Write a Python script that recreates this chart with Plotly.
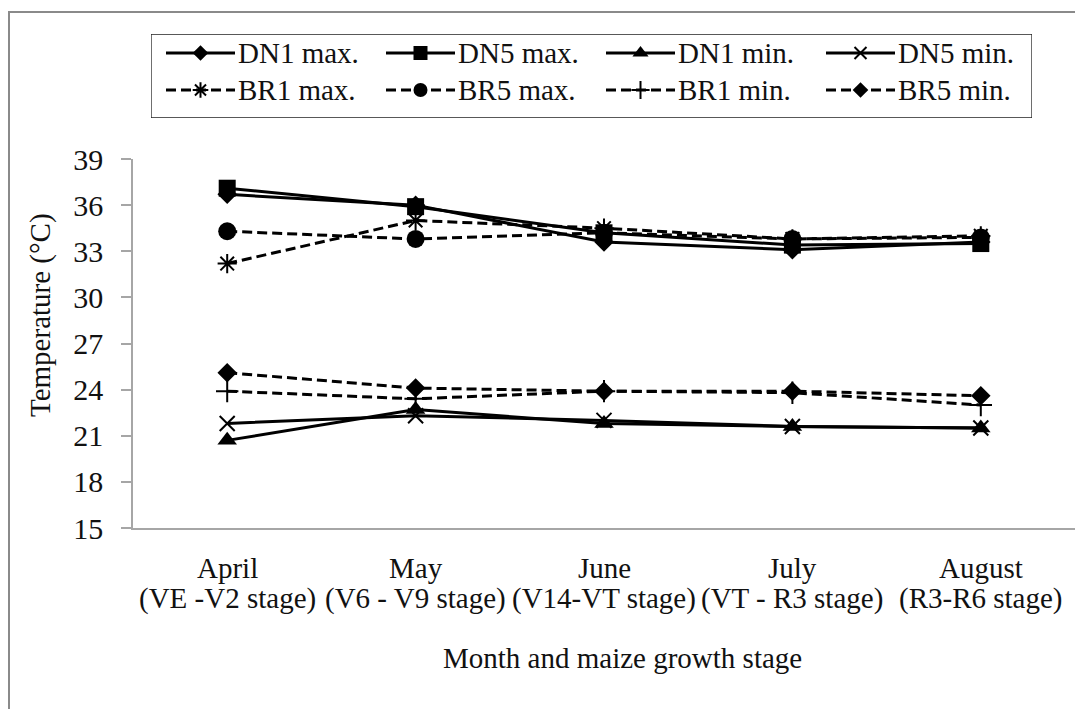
import plotly.graph_objects as go

# ---- data -------------------------------------------------------------
months = ["April", "May", "June", "July", "August"]
stages = ["(VE -V2 stage)", "(V6 - V9 stage)", "(V14-VT stage)",
          "(VT - R3 stage)", "(R3-R6 stage)"]

dn1_max = [36.7, 36.0, 33.6, 33.1, 33.6]
dn5_max = [37.1, 35.9, 34.2, 33.4, 33.5]
dn1_min = [20.7, 22.7, 21.8, 21.6, 21.5]
dn5_min = [21.8, 22.3, 22.0, 21.6, 21.5]
br1_max = [32.2, 35.0, 34.5, 33.8, 34.0]
br5_max = [34.3, 33.8, 34.2, 33.8, 33.9]
br1_min = [23.9, 23.4, 23.9, 23.8, 23.0]
br5_min = [25.1, 24.1, 23.9, 23.9, 23.6]

y_ticks = [15, 18, 21, 24, 27, 30, 33, 36, 39]

series = [
    ("DN1 max.", dn1_max, "solid", "diamond", 15),
    ("DN5 max.", dn5_max, "solid", "square", 17),
    ("DN1 min.", dn1_min, "solid", "triangle-up", 17),
    ("DN5 min.", dn5_min, "solid", "x-thin-open", 15),
    ("BR1 max.", br1_max, "10px,5px", "asterisk-open", 16),
    ("BR5 max.", br5_max, "10px,5px", "circle", 18),
    ("BR1 min.", br1_min, "10px,5px", "cross-thin-open", 16),
    ("BR5 min.", br5_min, "10px,5px", "diamond", 15),
]

# ---- geometry ---------------------------------------------------------
W, H = 1075, 709
ML, MR, MT, MB = 133, 0, 20, 181
PW, PH = W - ML - MR, H - MT - MB
PLOT_TOP = 159          # top of the temperature axis, px
LEG_L, LEG_R, LEG_T, LEG_B = 151, 1032, 34, 118


def px_x(px):
    return (px - ML) / PW


def px_y(py):
    return (H - MB - py) / PH


FONT = "Liberation Serif"
INK = "#111111"
AXIS_GREY = "#a6a6a6"

fig = go.Figure()


def marker_style(symbol, size):
    open_sym = symbol.endswith("-open")
    return dict(
        symbol=symbol, size=size, color="black",
        line=dict(color="black", width=2 if open_sym else 0),
    )


# ---- data traces ------------------------------------------------------
for name, vals, dash, symbol, size in series:
    fig.add_trace(go.Scatter(
        x=months, y=vals, name=name, mode="lines+markers",
        line=dict(color="black", width=3, dash=dash),
        marker=marker_style(symbol, size),
        showlegend=False, xaxis="x", yaxis="y",
    ))

# ---- legend drawn on its own pixel-scaled axes ------------------------
leg_cols = [166, 386, 606, 826]
leg_rows = [53, 90]
sample_len = 69
for i, (name, vals, dash, symbol, size) in enumerate(series):
    x0 = leg_cols[i % 4]
    yy = leg_rows[i // 4]
    fig.add_trace(go.Scatter(
        x=[x0, x0 + sample_len], y=[yy, yy], mode="lines",
        line=dict(color="black", width=3, dash=dash),
        showlegend=False, hoverinfo="skip", xaxis="x2", yaxis="y2",
    ))
    fig.add_trace(go.Scatter(
        x=[x0 + sample_len / 2], y=[yy], mode="markers",
        marker=marker_style(symbol, round(size * 0.8)),
        showlegend=False, hoverinfo="skip", xaxis="x2", yaxis="y2",
    ))
    fig.add_annotation(
        x=x0 + sample_len + 1, y=yy, xref="x2", yref="y2",
        text=name, showarrow=False, xanchor="left", yanchor="middle",
        font=dict(family=FONT, size=29, color=INK),
    )

fig.add_shape(type="rect", xref="x2", yref="y2",
              x0=LEG_L, x1=LEG_R, y0=LEG_T, y1=LEG_B,
              line=dict(color="#222222", width=1.3), fillcolor="rgba(0,0,0,0)",
              layer="below")

# ---- category labels (month + growth stage) ---------------------------
for m, s in zip(months, stages):
    fig.add_annotation(x=m, y=px_y(568), xref="x", yref="paper", text=m,
                       showarrow=False, xanchor="center", yanchor="middle",
                       font=dict(family=FONT, size=29, color=INK))
    fig.add_annotation(x=m, y=px_y(598), xref="x", yref="paper", text=s,
                       showarrow=False, xanchor="center", yanchor="middle",
                       font=dict(family=FONT, size=29, color=INK))

# ---- axis titles ------------------------------------------------------
fig.add_annotation(x=px_x(622), y=px_y(658), xref="paper", yref="paper",
                   text="Month and maize growth stage", showarrow=False,
                   xanchor="center", yanchor="middle",
                   font=dict(family=FONT, size=29, color=INK))
fig.add_annotation(x=px_x(40), y=px_y(315), xref="paper", yref="paper",
                   text="Temperature (°C)", showarrow=False, textangle=-90,
                   xanchor="center", yanchor="middle",
                   font=dict(family=FONT, size=29, color=INK))

# ---- outer chart frame ------------------------------------------------
fig.add_shape(type="rect", xref="paper", yref="paper",
              x0=px_x(9), x1=px_x(1100), y0=px_y(12), y1=px_y(730),
              line=dict(color="#8a8a8a", width=2), layer="below")

fig.update_layout(
    width=W, height=H,
    margin=dict(l=ML, r=MR, t=MT, b=MB, pad=0),
    paper_bgcolor="white", plot_bgcolor="white",
    font=dict(family=FONT, size=29, color=INK),
    xaxis=dict(
        domain=[0, 1], range=[-0.5, 4.5], type="category",
        categoryorder="array", categoryarray=months,
        showticklabels=False, ticks="", showgrid=False, zeroline=False,
        showline=True, linecolor=AXIS_GREY, linewidth=1.5,
    ),
    yaxis=dict(
        domain=[0, px_y(PLOT_TOP)], range=[15, 39],
        tickvals=y_ticks, ticks="outside", ticklen=10, tickwidth=1.5,
        tickcolor=AXIS_GREY, ticklabelstandoff=12,
        showgrid=False, zeroline=False,
        showline=True, linecolor=AXIS_GREY, linewidth=1.5,
        tickfont=dict(family=FONT, size=30, color=INK),
    ),
    xaxis2=dict(domain=[px_x(LEG_L), px_x(LEG_R)], range=[LEG_L, LEG_R],
                anchor="y2", visible=False, fixedrange=True),
    yaxis2=dict(domain=[px_y(LEG_B), px_y(LEG_T)], range=[LEG_B, LEG_T],
                anchor="x2", visible=False, fixedrange=True),
    showlegend=False,
)

fig.write_html("out.html")
